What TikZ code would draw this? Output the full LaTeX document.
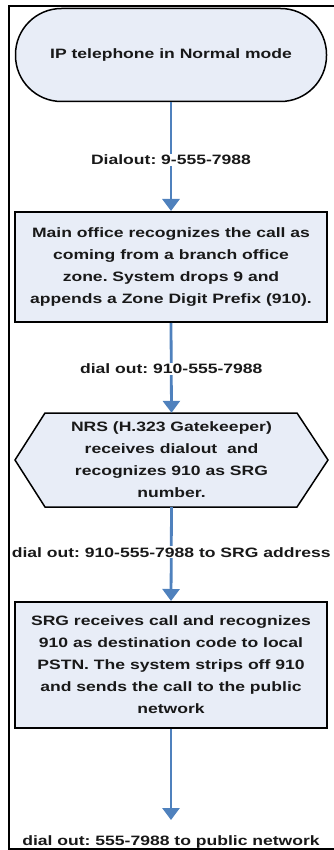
\documentclass[tikz,border=0pt]{standalone}
\usepackage{fontspec}
\setmainfont{Liberation Sans}
\newfontfamily\widesans[FakeStretch=1.29]{Liberation Sans}
\usetikzlibrary{arrows.meta}
\definecolor{boxfill}{RGB}{232,237,247}
\definecolor{arrowblue}{RGB}{79,129,189}
\frenchspacing
\begin{document}
\begin{tikzpicture}[x=1pt,y=-1pt,
  txt/.style={font=\widesans\fontsize{13.6}{22}\selectfont\bfseries\frenchspacing, align=center, text=black!90},
  term/.style={txt, draw=black, line width=1.5pt, fill=boxfill, rounded corners=46pt,
     minimum width=311pt, minimum height=93pt, inner sep=0pt},
  procbox/.style={txt, draw=black, line width=2pt, fill=boxfill, minimum width=312pt, inner sep=0pt},
  hexnode/.style={txt, minimum width=313pt, minimum height=94pt, inner sep=0pt},
  lab/.style={txt, fill=white, inner sep=1pt},
  flow/.style={draw=arrowblue, line width=2.8pt, -{Triangle[length=12pt,width=17pt]}}
]
\useasboundingbox (0,0) rectangle (334,850);
% terminal
\node[term] (n1) at (171,55) {IP telephone in Normal mode};
% box 2
\node[procbox, minimum height=110pt] (n2) at (171,267) {Main office recognizes the call as\\coming from a branch office\\zone. System drops 9 and\\appends a Zone Digit Prefix (910).};
% hexagon
\fill[boxfill, draw=black, line width=1.5pt, line join=miter]
  (15,460) -- (45,413) -- (297,413) -- (328,460) -- (297,507) -- (45,507) -- cycle;
\node[hexnode] (n3) at (171.5,460) {NRS (H.323 Gatekeeper)\\receives dialout\ \ and\\recognizes 910 as SRG\\number.};
% box 4
\node[procbox, minimum height=126pt] (n4) at (171,665) {SRG receives call and recognizes\\910 as destination code to local\\PSTN. The system strips off 910\\and sends the call to the public\\network};
\coordinate (end) at (171,820);
\node[txt] (l4) at (171,842) {dial out: 555-7988 to public network};
% connectors
\draw[flow] (n1.south) -- node[lab, pos=0.53] (l1) {Dialout: 9-555-7988} (n2.north);
\draw[flow] (n2.south) -- node[lab, pos=0.51] (l2) {dial out: 910-555-7988} (n3.north);
\draw[flow] (n3.south) -- node[lab, pos=0.48] (l3) {dial out: 910-555-7988 to SRG address} (n4.north);
\draw[flow] (n4.south) -- (end);
% frame
\draw[line width=2.5pt] (340,6) -- (9,6) -- (9,849) -- (340,849);
\end{tikzpicture}
\end{document}
